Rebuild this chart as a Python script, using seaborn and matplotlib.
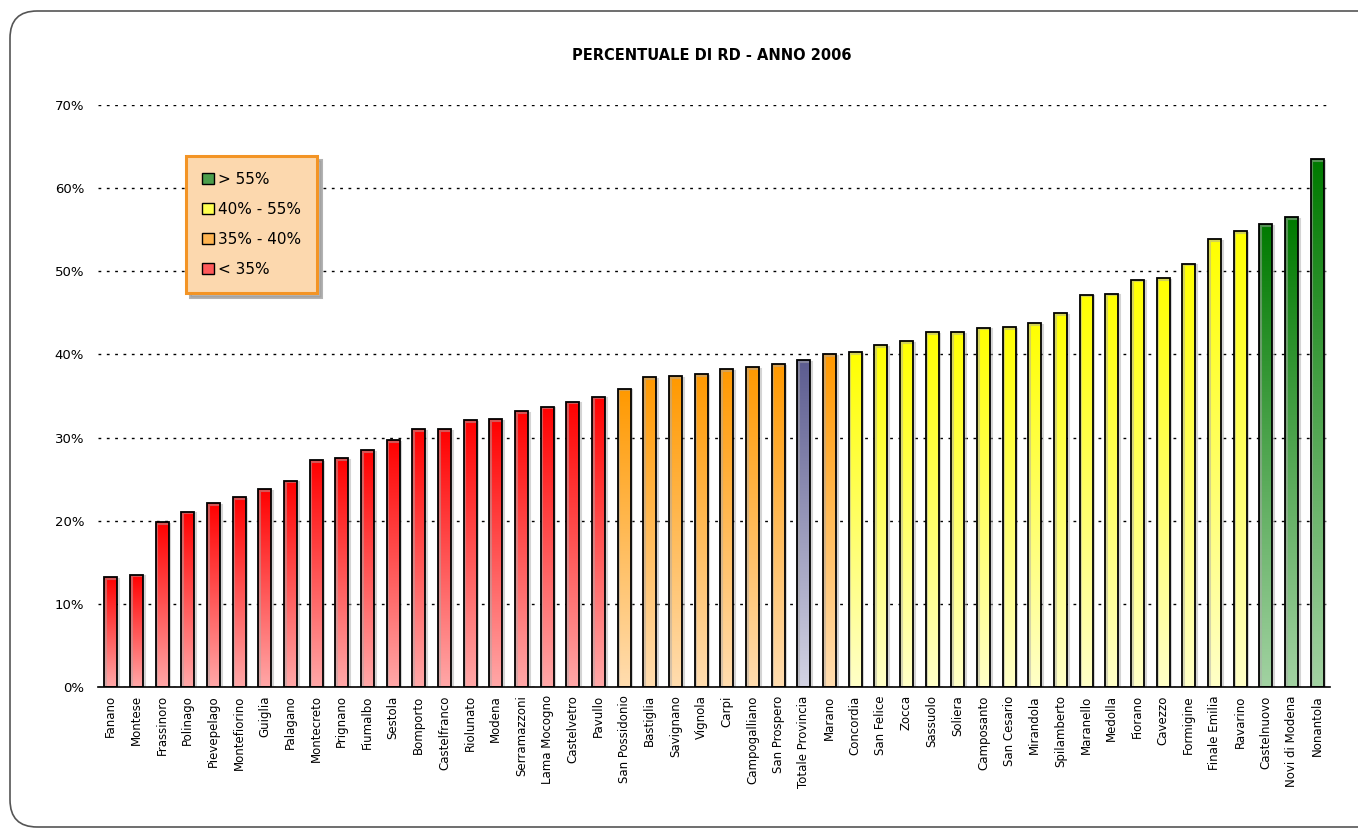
import numpy as np
import pandas as pd
import matplotlib
matplotlib.use("Agg")
import matplotlib.pyplot as plt
import seaborn as sns
from matplotlib.patches import Patch, FancyBboxPatch
from matplotlib.colors import LinearSegmentedColormap
from matplotlib.ticker import FuncFormatter, FixedLocator
import matplotlib.patheffects as pe

comuni = ["Fanano", "Montese", "Frassinoro", "Polinago", "Pievepelago", "Montefiorino",
          "Guiglia", "Palagano", "Montecreto", "Prignano", "Fiumalbo", "Sestola",
          "Bomporto", "Castelfranco", "Riolunato", "Modena", "Serramazzoni",
          "Lama Mocogno", "Castelvetro", "Pavullo", "San Possidonio", "Bastiglia",
          "Savignano", "Vignola", "Carpi", "Campogalliano", "San Prospero",
          "Totale Provincia", "Marano", "Concordia", "San Felice", "Zocca",
          "Sassuolo", "Soliera", "Camposanto", "San Cesario", "Mirandola",
          "Spilamberto", "Maranello", "Medolla", "Fiorano", "Cavezzo", "Formigine",
          "Finale Emilia", "Ravarino", "Castelnuovo", "Novi di Modena", "Nonantola"]
percentuale = [13.2, 13.5, 19.8, 21.1, 22.1, 22.8, 23.8, 24.8, 27.3, 27.5, 28.5, 29.7,
               31.0, 31.0, 32.1, 32.2, 33.2, 33.7, 34.3, 34.9, 35.9, 37.3, 37.4, 37.6,
               38.2, 38.5, 38.8, 39.3, 40.0, 40.3, 41.1, 41.6, 42.7, 42.7, 43.2, 43.3,
               43.8, 45.0, 47.2, 47.3, 49.0, 49.2, 50.9, 53.9, 54.8, 55.7, 56.5, 63.5]
fascia = (["<35"] * 20 + ["35-40"] * 7 + ["totale"] + ["35-40"] +
          ["40-55"] * 16 + [">55"] * 3)
legend_labels = ["> 55%", "40% - 55%", "35% - 40%", "< 35%"]
legend_colors = ["#4C9E4C", "#FFFF50", "#FFB450", "#FF5A5A"]

# gradient (top colour, bottom colour) for each band
gradienti = {
    "<35": ("#FF0000", "#FFA8A8"),
    "35-40": ("#FF9900", "#FFDDB0"),
    "40-55": ("#FFFF00", "#FFFFC8"),
    ">55": ("#007A00", "#A2D2A2"),
    "totale": ("#5C5C90", "#D4D4E4"),
}

df = pd.DataFrame({"comune": comuni, "valore": np.array(percentuale) / 100.0, "fascia": fascia})

sns.set_style("white")
plt.rcParams["font.family"] = ["DejaVu Sans"]
plt.rcParams["text.color"] = "black"

fig = plt.figure(figsize=(13.58, 8.30), dpi=100)
W, H = 1358, 830
ax = fig.add_axes([98 / W, 1 - 687 / H, 1232 / W, (687 - 105) / H])

palette = {k: v[0] for k, v in gradienti.items()}
sns.barplot(data=df, x="comune", y="valore", hue="fascia", palette=palette,
            dodge=False, width=0.5, edgecolor="black", linewidth=1.3,
            legend=False, ax=ax, zorder=3)

# gradient fill clipped to each bar (dark on top, light at the bottom)
grad = np.linspace(0, 1, 256).reshape(-1, 1)
for patch in ax.patches:
    h = patch.get_height()
    if h <= 0:
        continue
    x0 = patch.get_x()
    w = patch.get_width()
    idx = int(round(x0 + w / 2))
    top, bottom = gradienti[fascia[idx]]
    cmap = LinearSegmentedColormap.from_list("g", [top, bottom])
    im = ax.imshow(grad, cmap=cmap, aspect="auto", extent=[x0, x0 + w, 0, h],
                   origin="upper", zorder=3.5)
    im.set_clip_path(patch)
    patch.set_facecolor("none")
    patch.set_zorder(4)
    patch.set_path_effects([pe.SimpleLineShadow(offset=(1.2, -1.2), shadow_color="#aaaaaa",
                                                alpha=0.5, linewidth=1.5), pe.Normal()])

ax.set_xlim(-0.5, len(comuni) - 0.5)
ax.set_ylim(0, 0.70)
ax.set_yticks(np.arange(0, 0.71, 0.10))
ax.yaxis.set_major_formatter(FuncFormatter(lambda v, p: f"{v * 100:.0f}%"))
ax.tick_params(axis="y", length=0, pad=10, labelsize=9.5, labelcolor="black")
ax.grid(axis="y", color="black", linestyle=(0, (2, 4)), linewidth=1.0, zorder=1)
ax.grid(axis="x", visible=False)

ax.set_xticks(range(len(comuni)))
ax.set_xticklabels(comuni, rotation=90, fontsize=8.5, color="black")
ax.tick_params(axis="x", which="major", length=0, pad=6)
ax.xaxis.set_minor_locator(FixedLocator(np.arange(-0.5, len(comuni), 1.0)))
ax.tick_params(axis="x", which="minor", length=5, width=1, color="black", direction="out")
ax.set_xlabel("")
ax.set_ylabel("")

for s in ["top", "right", "left"]:
    ax.spines[s].set_visible(False)
ax.spines["bottom"].set_color("black")
ax.spines["bottom"].set_linewidth(1.2)
ax.spines["bottom"].set_zorder(5)

fig.text(0.5 * (98 + 1330) / W - 0.002, 1 - 55 / H, "PERCENTUALE DI RD - ANNO 2006",
         ha="center", va="center", fontsize=10.5, fontweight="bold", color="black")

handles = [Patch(facecolor=c, edgecolor="black", linewidth=1.0) for c in legend_colors]
leg = ax.legend(handles, legend_labels, loc="upper left",
                bbox_to_anchor=(186 / W, 1 - 156 / H), bbox_transform=fig.transFigure,
                fontsize=11, frameon=True, fancybox=False,
                shadow={"color": "#a0a0a0", "alpha": 0.8, "ox": 3, "oy": -3},
                handlelength=0.75, handleheight=0.75, handletextpad=0.3,
                labelspacing=0.98, borderpad=1.05, borderaxespad=0)
for t in leg.get_texts():
    t.set_color("black")
frame = leg.get_frame()
frame.set_facecolor("#FCD8AE")
frame.set_edgecolor("#F39425")
frame.set_linewidth(2.2)
frame.set_alpha(1)
leg.set_zorder(10)

# rounded chart border
border = FancyBboxPatch((10 / W, 3 / H), 1.2, 1 - 14 / H, boxstyle="round,pad=0,rounding_size=0.02",
                        transform=fig.transFigure, facecolor="none", edgecolor="#555555",
                        linewidth=1.2, mutation_aspect=W / H)
fig.patches.append(border)

fig.savefig("out.png", dpi=100)
